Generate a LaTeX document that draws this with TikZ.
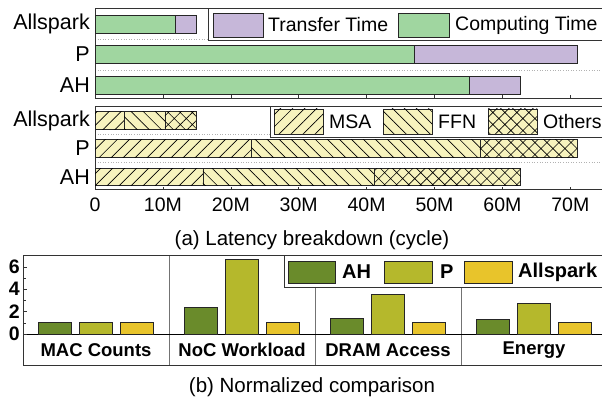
\documentclass[tikz,border=0pt]{standalone}
\usepackage{fontspec}
\setmainfont{Liberation Sans}
\usepackage{tikz}
\usetikzlibrary{patterns.meta}

\definecolor{compcol}{HTML}{A0D6A0}
\definecolor{xfercol}{HTML}{C6B7D9}
\definecolor{hatchbg}{HTML}{F7F3BE}
\definecolor{ahcol}{HTML}{6A8B2B}
\definecolor{pcol}{HTML}{B5B82C}
\definecolor{ascol}{HTML}{E8C42B}

% one unit = one point, y running downwards
\def\sx{6.79}  % points per 1M cycles
\def\uy{11.2}  % points per unit in the lower chart

\begin{document}
\begin{tikzpicture}[x=1pt,y=-1pt,
    bar/.style={draw=black!85,line width=0.8pt},
    msa/.style={bar,fill=hatchbg,postaction={pattern={Lines[angle=45,distance=8.5pt,line width=0.7pt]}}},
    ffn/.style={bar,fill=hatchbg,postaction={pattern={Lines[angle=-45,distance=8.5pt,line width=0.7pt]}}},
    others/.style={bar,fill=hatchbg,postaction={pattern={Hatch[angle=45,distance=8.5pt,line width=0.6pt]}}},
    frame/.style={draw=black!80,line width=0.8pt},
    divider/.style={draw=black!55,line width=0.9pt},
    grid/.style={draw=black!30,dotted,line width=0.6pt},
    legbox/.style={draw=black!80,fill=white,line width=0.8pt},
    rowlab/.style={anchor=east,inner sep=0pt,font=\fontsize{21.5}{22}\selectfont},
    ticklab/.style={inner sep=0pt,font=\fontsize{19.5}{20}\selectfont},
    legtext/.style={anchor=west,inner sep=0pt,font=\fontsize{19.5}{20}\selectfont},
    caption/.style={inner sep=0pt,font=\fontsize{20.5}{21}\selectfont},
    boldlab/.style={inner sep=0pt,font=\fontsize{18.5}{19}\selectfont\bfseries}]

    \clip (0,0) rectangle (602,401);

    %% (a) latency breakdown, upper part: transfer vs. computing
    \draw[grid] (95,39) -- (610,39) (95,70) -- (610,70);
    \draw[frame] (610,8) -- (95,8) -- (95,98) -- (610,98);
    \foreach \v in {0,...,7}
        \draw[frame,line width=0.6pt] ({95+\sx*10*\v},98) -- ++(0,-2.5);

    \foreach \lab/\yc/\cv/\tv in {Allspark/24/11.8/14.9, P/54.5/47.1/71.0, AH/85/55.2/62.7}{
        \node[rowlab] (tt-\lab) at (90,\yc) {\lab};
        \draw[bar,fill=compcol] (95,{\yc-9}) rectangle ({95+\sx*\cv},{\yc+9});
        \draw[bar,fill=xfercol] ({95+\sx*\cv},{\yc-9}) rectangle ({95+\sx*\tv},{\yc+9});
    }

    \draw[legbox] (208,8) rectangle (612,40);
    \draw[bar,fill=xfercol] (213,13) rectangle (263,37);
    \node[legtext] (leg-xfer) at (268,25) {Transfer Time};
    \draw[bar,fill=compcol] (398,13) rectangle (449,37);
    \node[legtext] (leg-comp) at (455,25) {Computing Time};

    %% (a) latency breakdown, lower part: per layer type
    \draw[grid] (95,134) -- (610,134) (95,162) -- (610,162);
    \draw[frame] (610,106) -- (95,106) -- (95,189) -- (610,189);

    \foreach \lab/\yc/\mv/\fv/\tv in {Allspark/120.5/4.3/10.3/14.9, P/148.3/23.0/56.7/71.0, AH/176.7/15.9/41.2/62.7}{
        \node[rowlab] (ly-\lab) at (90,\yc) {\lab};
        \draw[msa] (95,{\yc-8.7}) rectangle ({95+\sx*\mv},{\yc+8.7});
        \draw[ffn] ({95+\sx*\mv},{\yc-8.7}) rectangle ({95+\sx*\fv},{\yc+8.7});
        \draw[others] ({95+\sx*\fv},{\yc-8.7}) rectangle ({95+\sx*\tv},{\yc+8.7});
    }

    \foreach \v/\t in {0/0,1/10M,2/20M,3/30M,4/40M,5/50M,6/60M,7/70M}{
        \draw[frame,line width=0.6pt] ({95+\sx*10*\v},189) -- ++(0,-2.5);
        \node[ticklab] (tick\v) at ({95+\sx*10*\v},205) {\t};
    }

    \draw[legbox] (270,106) rectangle (612,137);
    \draw[msa] (274,109) rectangle (323,134);
    \node[legtext] (leg-msa) at (329,122) {MSA};
    \draw[ffn] (383,109) rectangle (432,134);
    \node[legtext] (leg-ffn) at (438,122) {FFN};
    \draw[others] (488,109) rectangle (537,134);
    \node[legtext] (leg-others) at (543,122) {Others};

    \node[caption] (cap-a) at (312,240) {(a) Latency breakdown (cycle)};

    %% (b) normalized comparison
    \foreach \x in {169,315,461}
        \draw[divider] (\x,255) -- (\x,365);
    \draw[frame] (612,255) -- (23,255) -- (23,365) -- (612,365);
    \draw[line width=0.9pt] (23,334) -- (612,334);

    \foreach \v in {0,2,4,6}{
        \draw[frame,line width=0.6pt] (23,{334-\uy*\v}) -- ++(4,0);
        \node[boldlab,anchor=east,font=\fontsize{19.5}{20}\selectfont\bfseries] (ytick\v) at (20,{334-\uy*\v}) {\v};
    }
    \foreach \v in {1,3,5}
        \draw[frame,line width=0.6pt] (23,{334-\uy*\v}) -- ++(2.5,0);

    \foreach \i/\gx/\a/\p/\lab in {1/23/1/1/MAC Counts, 2/169/2.41/6.7/NoC Workload,
                                    3/315/1.43/3.57/DRAM Access, 4/461/1.34/2.77/Energy}{
        \draw[bar,fill=ahcol] ({\gx+15.5},334) rectangle ++(33,{-\uy*\a});
        \draw[bar,fill=pcol] ({\gx+56.5},334) rectangle ++(33,{-\uy*\p});
        \draw[bar,fill=ascol] ({\gx+97.5},334) rectangle ++(33,{-\uy});
        \node[boldlab] (cat\i) at ({\gx+73},350) {\lab};
    }

    \draw[legbox] (284,255) rectangle (612,287);
    \draw[bar,fill=ahcol] (288,261) rectangle (335,283);
    \node[legtext,font=\fontsize{20}{21}\selectfont\bfseries] (leg-ah) at (342,272) {AH};
    \draw[bar,fill=pcol] (384,261) rectangle (432,283);
    \node[legtext,font=\fontsize{20}{21}\selectfont\bfseries] (leg-p) at (440,272) {P};
    \draw[bar,fill=ascol] (464,261) rectangle (512,283);
    \node[legtext,font=\fontsize{20}{21}\selectfont\bfseries] (leg-as) at (518,272) {Allspark};

    \node[caption] (cap-b) at (312,387) {(b) Normalized comparison};
\end{tikzpicture}
\end{document}
